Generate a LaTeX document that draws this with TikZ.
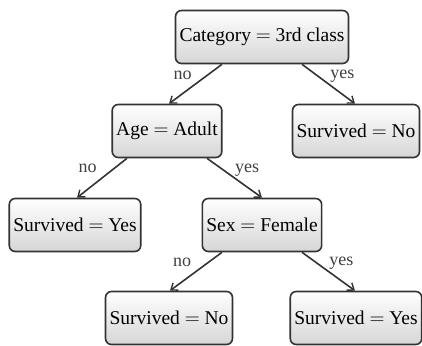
\documentclass[tikz,border=0pt]{standalone}
\usepackage{fontspec}
\setmainfont{Liberation Serif}
\usetikzlibrary{arrows.meta,shadings}
\definecolor{edgegray}{HTML}{333333}
\definecolor{boxbottom}{HTML}{D6D6D6}
\tikzset{
  box/.style={draw=edgegray, line width=1.6pt, rounded corners=6pt,
    top color=white, bottom color=boxbottom, minimum height=53pt,
    inner xsep=4pt, font=\fontsize{19.5}{23}\selectfont},
  conn/.style={draw=edgegray, line width=1.6pt,
    -{Straight Barb[length=6pt,width=9pt,line width=1.4pt]}},
  lbl/.style={font=\fontsize{18}{21}\selectfont, text=black!75, inner sep=0pt}
}
\begin{document}
\begin{tikzpicture}[x=1pt,y=-1pt]
\useasboundingbox (0,0) rectangle (422,345);
\node[box] (root) at (262,37) {Category $=$ 3rd class};
\node[box] (age) at (167,131) {Age $=$ Adult};
\node[box] (sno1) at (356,131) {Survived $=$ No};
\node[box] (syes1) at (75,225) {Survived $=$ Yes};
\node[box] (sex) at (262,225) {Sex $=$ Female};
\node[box] (sno2) at (169,318) {Survived $=$ No};
\node[box] (syes2) at (356,318) {Survived $=$ Yes};
\draw[conn] ([xshift=-40pt]root.south) -- ([xshift=2pt]age.north)
  node[lbl, pos=.27, xshift=-25pt] {no};
\draw[conn] ([xshift=40pt]root.south) -- ([xshift=-1pt]sno1.north)
  node[lbl, pos=.31, xshift=24pt] {yes};
\draw[conn] ([xshift=-40pt]age.south) -- ([xshift=2pt]syes1.north)
  node[lbl, pos=.25, xshift=-27pt] {no};
\draw[conn] ([xshift=40pt]age.south) -- (sex.north)
  node[lbl, pos=.31, xshift=23pt] {yes};
\draw[conn] ([xshift=-40pt]sex.south) -- ([xshift=1pt]sno2.north)
  node[lbl, pos=.25, xshift=-27pt] {no};
\draw[conn] ([xshift=40pt]sex.south) -- ([xshift=-1pt]syes2.north)
  node[lbl, pos=.29, xshift=24pt] {yes};
\end{tikzpicture}
\end{document}
